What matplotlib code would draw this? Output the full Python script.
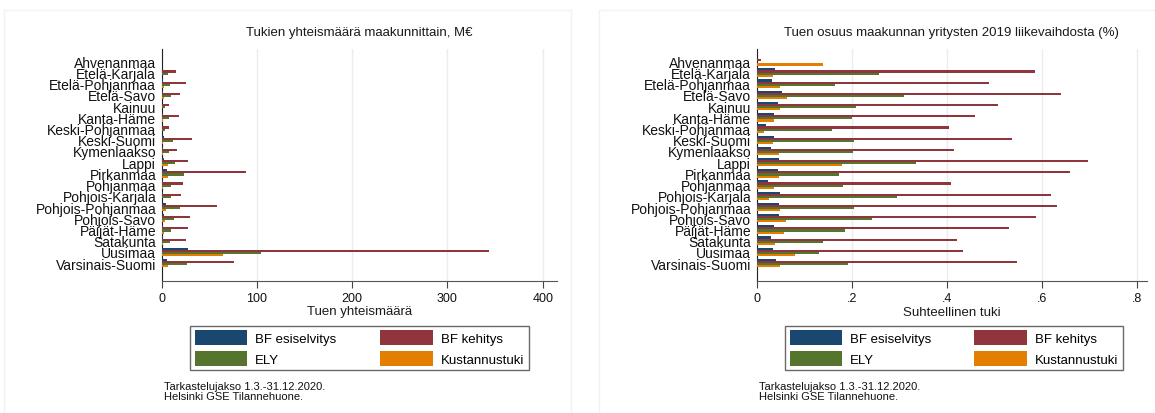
import numpy as np
import matplotlib.pyplot as plt
from matplotlib.patches import Patch, Rectangle

plt.rcParams['font.family'] = ['Liberation Sans', 'DejaVu Sans']

maakunnat = ['Ahvenanmaa', 'Etelä-Karjala', 'Etelä-Pohjanmaa', 'Etelä-Savo', 'Kainuu',
             'Kanta-Häme', 'Keski-Pohjanmaa', 'Keski-Suomi', 'Kymenlaakso', 'Lappi',
             'Pirkanmaa', 'Pohjanmaa', 'Pohjois-Karjala', 'Pohjois-Pohjanmaa',
             'Pohjois-Savo', 'Päijät-Häme', 'Satakunta', 'Uusimaa', 'Varsinais-Suomi']

sarjat = ['BF esiselvitys', 'BF kehitys', 'ELY', 'Kustannustuki']

# Tukien yhteismäärä, M€
tuki_esiselvitys = [0.1, 0.5, 1.8, 1.0, 0.7, 1.0, 0.4, 2.0, 1.0, 2.0, 5.6, 1.0, 1.5, 4.2, 2.0, 1.6, 1.2, 28, 5.6]
tuki_kehitys = [0.6, 15, 25, 19, 7.4, 18, 7.7, 32, 16.5, 28, 88, 22, 20, 58, 29.4, 28, 25, 344, 76]
tuki_ely = [0.1, 6.3, 8.8, 9.5, 3.2, 7.7, 3.2, 12.3, 8, 13.7, 23, 9.8, 9.8, 19, 12.6, 9.5, 8.4, 104, 27]
tuki_kustannus = [0.8, 0.7, 2.5, 2.0, 0.8, 1.0, 0.5, 1.8, 1.2, 7, 6.3, 1.1, 0.8, 4.2, 3.5, 2.8, 1.8, 64, 7]

# Tuen osuus liikevaihdosta
osuus_esiselvitys = [0.001, 0.038, 0.032, 0.053, 0.045, 0.036, 0.02, 0.036, 0.031, 0.048, 0.044, 0.024, 0.05, 0.048, 0.047, 0.036, 0.031, 0.035, 0.041]
osuus_kehitys = [0.0098, 0.587, 0.489, 0.64, 0.509, 0.46, 0.405, 0.537, 0.415, 0.698, 0.66, 0.409, 0.62, 0.632, 0.588, 0.532, 0.422, 0.434, 0.549]
osuus_ely = [0.0005, 0.258, 0.165, 0.31, 0.21, 0.2, 0.159, 0.204, 0.203, 0.335, 0.174, 0.182, 0.295, 0.204, 0.243, 0.186, 0.14, 0.132, 0.192]
osuus_kustannus = [0.14, 0.034, 0.05, 0.063, 0.05, 0.037, 0.015, 0.034, 0.048, 0.18, 0.048, 0.037, 0.025, 0.05, 0.061, 0.058, 0.038, 0.081, 0.05]

varit = ['#1a476f', '#90353b', '#55752f', '#e37e00']
grid_c = '#e6eef0'

W, H = 1155, 414
fig = plt.figure(figsize=(W / 100, H / 100), dpi=100)

# paneelien reunat
for x0, x1 in [(4, 571), (599, 1160)]:
    fig.patches.append(Rectangle((x0 / W, -0.05), (x1 - x0) / W, (H - 11) / H + 0.05,
                                 transform=fig.transFigure, fill=False,
                                 edgecolor='#eef3f4', lw=1))


def paneeli(left, right, arvot, xmax, ticks, ticklabels, title, xlabel, leg_x0, leg_x1, note_x):
    ax = fig.add_axes([left / W, 1 - 282 / H, (right - left) / W, (282 - 50) / H])
    y = np.arange(len(maakunnat))
    h = 0.19
    for k, (vals, c) in enumerate(zip(arvot, varit)):
        ax.barh(y + (k - 1.5) * h, vals, height=h, color=c, edgecolor='none', zorder=3)
    ax.set_ylim(len(maakunnat) - 1 + 1.6, -1.1)
    ax.set_xlim(0, xmax)
    ax.set_yticks(y)
    ax.set_yticklabels(maakunnat, fontsize=10, color='#111111')
    ax.tick_params(axis='y', length=0, pad=4)
    ax.set_xticks(ticks)
    ax.set_xticklabels(ticklabels, fontsize=9, color='#111111')
    ax.tick_params(axis='x', length=5, width=0.8, color='#444444', pad=3)
    ax.grid(axis='x', color=grid_c, lw=1, zorder=0)
    for s in ['top', 'right']:
        ax.spines[s].set_visible(False)
    ax.spines['left'].set_color('#222222')
    ax.spines['bottom'].set_color('#555555')
    ax.set_title(title, fontsize=9.5, color='#1a1a1a', pad=10)
    ax.set_xlabel(xlabel, fontsize=9.5, color='#1a1a1a', labelpad=1)

    handles = [Patch(facecolor=c, edgecolor='none', label=s) for s, c in zip(sarjat, varit)]
    # rivit: esiselvitys | kehitys, ELY | kustannustuki
    order = [0, 2, 1, 3]
    leg = ax.legend([handles[i] for i in order], [sarjat[i] for i in order], ncol=2,
                    loc='upper left',
                    bbox_to_anchor=(leg_x0 / W, 1 - 327 / H, (leg_x1 - leg_x0) / W, 0.001),
                    bbox_transform=fig.transFigure, mode='expand',
                    fontsize=9.5, frameon=True, fancybox=False, borderaxespad=0,
                    handlelength=4.0, handleheight=1.35, handletextpad=0.6,
                    labelspacing=0.45, borderpad=0.35, columnspacing=1.0)
    leg.get_frame().set_edgecolor('#444444')
    leg.get_frame().set_linewidth(1)
    fig.text(note_x / W, 1 - 382 / H, 'Tarkastelujakso 1.3.-31.12.2020.\nHelsinki GSE Tilannehuone.',
             fontsize=8, va='top', ha='left', color='#111111', linespacing=0.95)
    return ax


paneeli(161.7, 557, [tuki_esiselvitys, tuki_kehitys, tuki_ely, tuki_kustannus], 415,
        [0, 100, 200, 300, 400], ['0', '100', '200', '300', '400'],
        'Tukien yhteismäärä maakunnittain, M€', 'Tuen yhteismäärä', 190, 529, 164)

paneeli(756.7, 1147, [osuus_esiselvitys, osuus_kehitys, osuus_ely, osuus_kustannus], 0.822,
        [0, 0.2, 0.4, 0.6, 0.8], ['0', '.2', '.4', '.6', '.8'],
        'Tuen osuus maakunnan yritysten 2019 liikevaihdosta (%)', 'Suhteellinen tuki', 785, 1123, 759)

fig.savefig('out.png', dpi=100)
